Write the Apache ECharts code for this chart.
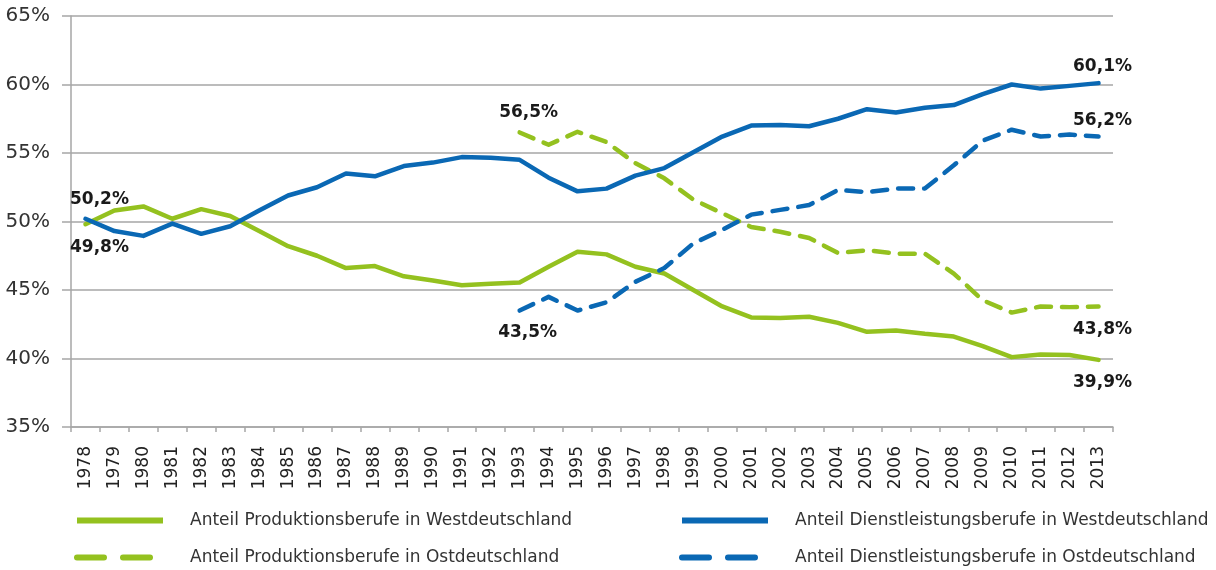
<!DOCTYPE html>
<html>
<head>
<meta charset="utf-8">
<script src="https://cdn.jsdelivr.net/npm/echarts@6/dist/echarts.min.js"></script>
<style>
  html, body { margin: 0; padding: 0; background: #fff; }
  #chart { width: 1216px; height: 570px; }
</style>
</head>
<body>
<div id="chart"></div>
<script>
var years = ['1978', '1979', '1980', '1981', '1982', '1983', '1984', '1985', '1986', '1987',
  '1988', '1989', '1990', '1991', '1992', '1993', '1994', '1995', '1996', '1997', '1998',
  '1999', '2000', '2001', '2002', '2003', '2004', '2005', '2006', '2007', '2008', '2009',
  '2010', '2011', '2012', '2013'];

// West: 1978-2013
var prodWest = [49.8, 50.8, 51.1, 50.2, 50.9, 50.4, 49.3, 48.2, 47.5, 46.6,
  46.75, 46.0, 45.7, 45.35, 45.45, 45.55, 46.7, 47.8, 47.6, 46.7, 46.2,
  45.0, 43.8, 43.0, 42.95, 43.05, 42.6, 41.95, 42.05, 41.8, 41.6, 40.9,
  40.1, 40.3, 40.25, 39.9];
var servWest = [50.2, 49.3, 48.95, 49.85, 49.1, 49.65, 50.8, 51.9, 52.5, 53.5,
  53.3, 54.05, 54.3, 54.7, 54.65, 54.5, 53.2, 52.2, 52.4, 53.35, 53.9,
  55.05, 56.2, 57.0, 57.05, 56.95, 57.5, 58.2, 57.95, 58.3, 58.5, 59.3,
  60.0, 59.7, 59.9, 60.1];

// East: 1993-2013 only
var prodEast = [56.5, 55.6, 56.55, 55.8, 54.25, 53.15, 51.6, 50.6, 49.6, 49.25,
  48.8, 47.7, 47.9, 47.65, 47.65, 46.2, 44.25, 43.35, 43.8, 43.75, 43.8];
var servEast = [43.5, 44.5, 43.5, 44.1, 45.6, 46.6, 48.4, 49.4, 50.5, 50.85,
  51.2, 52.3, 52.15, 52.4, 52.4, 54.1, 55.9, 56.7, 56.2, 56.35, 56.2];

var yTicks = { min: 35, max: 65, step: 5 };

var names = [
  'Anteil Produktionsberufe in Westdeutschland',
  'Anteil Produktionsberufe in Ostdeutschland',
  'Anteil Dienstleistungsberufe in Westdeutschland',
  'Anteil Dienstleistungsberufe in Ostdeutschland'
];

var GREEN = '#94c11f';
var BLUE = '#0a68b4';
var FONT = 'DejaVu Sans';

function fmt(v) {
  return v.toFixed(1).replace('.', ',') + '%';
}

function padEast(arr) {
  var out = [];
  for (var i = 0; i < years.length - arr.length; ++i) out.push(null);
  return out.concat(arr);
}

// label positions: index -> [dx, dy] of label centre from the point
function withLabels(arr, labels, color) {
  return arr.map(function (v, i) {
    if (v == null || !labels[i]) return v;
    return {
      value: v,
      symbol: 'circle',
      symbolSize: 2,
      itemStyle: { color: color },
      label: {
        show: true,
        position: 'inside',
        offset: labels[i],
        formatter: fmt(v),
        fontFamily: FONT,
        fontWeight: 'bold',
        fontSize: 17,
        color: '#1a1a1a'
      }
    };
  });
}

var last = years.length - 1;
var lbl = {};
lbl.prodWest = {}; lbl.prodWest[0] = [14, 23]; lbl.prodWest[last] = [4, 23];
lbl.servWest = {}; lbl.servWest[0] = [14, -19]; lbl.servWest[last] = [4, -17];
lbl.prodEast = {}; lbl.prodEast[15] = [9, -20]; lbl.prodEast[last] = [4, 23];
lbl.servEast = {}; lbl.servEast[15] = [8, 22]; lbl.servEast[last] = [4, -16];

function lineSeries(name, data, color, dashed) {
  return {
    name: name,
    type: 'line',
    data: data,
    symbol: 'none',
    showSymbol: true,
    connectNulls: false,
    animation: false,
    lineStyle: {
      color: color,
      width: 4.5,
      type: dashed ? [15, 11] : 'solid',
      cap: 'round',
      join: 'round'
    },
    itemStyle: { color: color },
    emphasis: { disabled: true }
  };
}

// one legend per entry so each can sit where the original has it
function legendAt(name, left, top, dashed) {
  return {
    left: left, top: top,
    itemWidth: 86, itemHeight: 12,
    selectedMode: false,
    textStyle: { fontFamily: FONT, fontSize: 17, color: '#333', padding: [0, 0, 0, 22] },
    itemStyle: { opacity: 0 },
    lineStyle: { width: 6, type: dashed ? [27, 19] : 'solid', cap: dashed ? 'round' : 'butt' },
    data: [name]
  };
}

var chart = echarts.init(document.getElementById('chart'), null, { renderer: 'canvas' });

chart.setOption({
  backgroundColor: '#fff',
  animation: false,
  grid: { left: 71, right: 103, top: 16, bottom: 143, containLabel: false },
  legend: [
    legendAt(names[0], 69, 507, false),
    legendAt(names[1], 69, 544, true),
    legendAt(names[2], 674, 507, false),
    legendAt(names[3], 674, 544, true)
  ],
  xAxis: {
    type: 'category',
    data: years,
    boundaryGap: true,
    axisLine: { lineStyle: { color: '#a6a6a6', width: 1.5 } },
    axisTick: { show: true, interval: 0, length: 5, lineStyle: { color: '#a6a6a6', width: 1.5 } },
    axisLabel: {
      interval: 0, rotate: 90, margin: 19,
      fontFamily: FONT, fontSize: 17, color: '#222'
    },
    splitLine: { show: false }
  },
  yAxis: {
    type: 'value',
    min: yTicks.min,
    max: yTicks.max,
    interval: yTicks.step,
    axisLine: { show: true, lineStyle: { color: '#a6a6a6', width: 1.5 } },
    axisTick: { show: true, length: 9, lineStyle: { color: '#a6a6a6', width: 1.5 } },
    axisLabel: {
      margin: 21,
      fontFamily: FONT, fontSize: 20, color: '#333',
      formatter: function (v) { return v + '%'; }
    },
    splitLine: { show: true, lineStyle: { color: '#a6a6a6', width: 1.5 } }
  },
  series: [
    lineSeries(names[0], withLabels(prodWest, lbl.prodWest, GREEN), GREEN, false),
    lineSeries(names[1], withLabels(padEast(prodEast), lbl.prodEast, GREEN), GREEN, true),
    lineSeries(names[2], withLabels(servWest, lbl.servWest, BLUE), BLUE, false),
    lineSeries(names[3], withLabels(padEast(servEast), lbl.servEast, BLUE), BLUE, true)
  ]
});
</script>
</body>
</html>
